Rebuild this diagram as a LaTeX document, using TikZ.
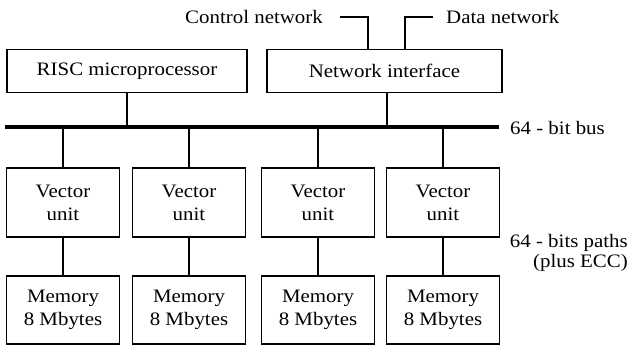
\documentclass[tikz,border=0pt]{standalone}
\usepackage{fontspec}
\setmainfont{Liberation Serif}[FakeStretch=1.1]
\usetikzlibrary{
  calc,
  positioning
}

\begin{document}
\begin{tikzpicture}[x=1pt,y=-1pt]
  \tikzset{
    unitbox/.style={
      draw,line width=1.2pt,minimum width=113pt,minimum height=69pt,
      align=center,inner sep=0pt,font=\fontsize{19}{23}\selectfont
    },
    widebox/.style={unitbox,minimum height=43pt},
    lbl/.style={inner sep=0pt,font=\fontsize{19}{20}\selectfont},
    wire/.style={line width=1.7pt},
    bus/.style={line width=4.5pt},
  }
  \useasboundingbox (0,0) rectangle (630,346);

  \node[widebox,minimum width=240pt] (risc) at (127,71) {RISC microprocessor};
  \node[widebox,minimum width=235pt] (netif) at (384.5,71) {Network interface};

  % the bus
  \coordinate (busL) at (5,127);
  \coordinate (busR) at (499,127);
  \draw[bus] (busL) -- (busR);
  \node[lbl,anchor=west] (buslbl) at (510,128) {64 - bit bus};

  \draw[wire] (risc.south) -- (risc.south |- busL);
  \draw[wire] ($(netif.south)+(2.5,0)$) -- ($(netif.south |- busL)+(2.5,0)$);

  % network links
  \node[lbl,anchor=east] (ctrl) at (323,17) {Control network};
  \node[lbl,anchor=west] (data) at (446,17) {Data network};
  \draw[wire] ([xshift=17pt]ctrl.east) -| ($(netif.north)+(-16.5,0)$);
  \draw[wire] ($(netif.north)+(20.5,0)$) |- ([xshift=-13pt]data.west);

  \foreach \i/\x in {1/63,2/189,3/318,4/443} {
    \node[unitbox] (vec\i) at (\x,202.5) {Vector\\unit};
    \node[unitbox,minimum height=68pt] (mem\i) at (\x,310) {Memory\\8 Mbytes};
    \draw[wire] (vec\i.north) -- (vec\i.north |- busL);
    \draw[wire] (vec\i) -- (mem\i);
  }

  \node[lbl,align=right,anchor=east] (paths) at (628,253) {64 - bits paths\\(plus ECC)};
\end{tikzpicture}
\end{document}
